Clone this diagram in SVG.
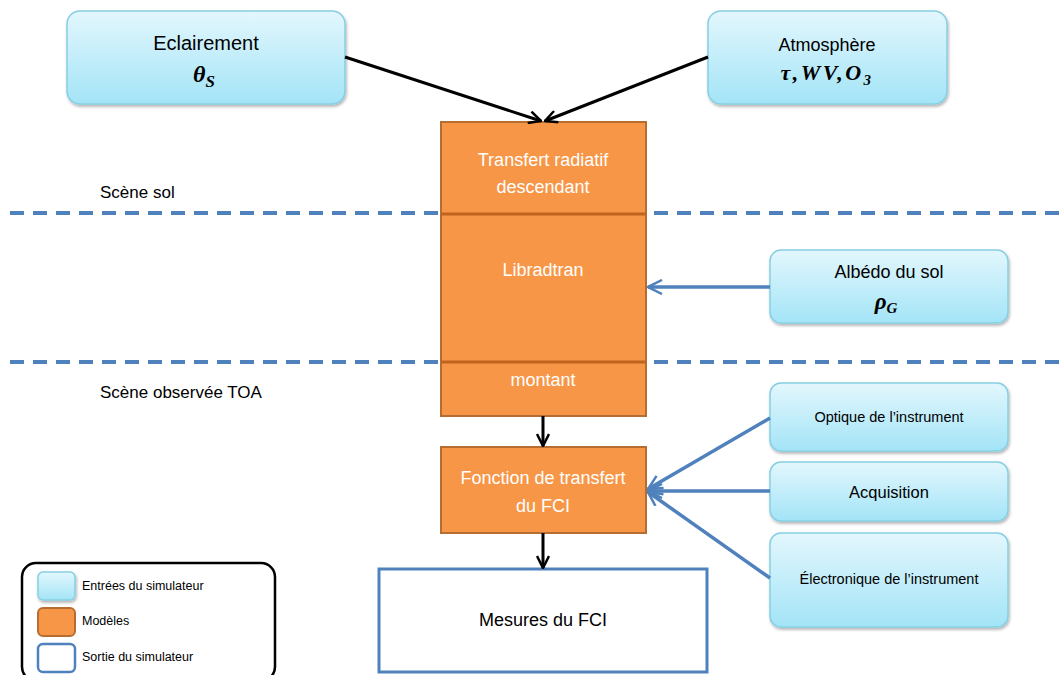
<svg xmlns="http://www.w3.org/2000/svg" width="1064" height="675" viewBox="0 0 1064 675">
<defs>
<linearGradient id="gBlue" x1="0" y1="0" x2="0" y2="1">
<stop offset="0" stop-color="#e3f7fd"/>
<stop offset="1" stop-color="#a3e4f7"/>
</linearGradient>
<filter id="sh" x="-10%" y="-10%" width="130%" height="140%">
<feDropShadow dx="1" dy="2" stdDeviation="1.5" flood-color="#000" flood-opacity="0.3"/>
</filter>
<marker id="aBlk" viewBox="0 0 14 14" refX="13" refY="7" markerWidth="14" markerHeight="14" markerUnits="userSpaceOnUse" orient="auto">
<path d="M1,1 L13,7 L1,13" fill="none" stroke="#000" stroke-width="2.5"/>
</marker>
<marker id="aBlu" viewBox="0 0 16 16" refX="15" refY="8" markerWidth="16" markerHeight="16" markerUnits="userSpaceOnUse" orient="auto">
<path d="M1,1 L15,8 L1,15" fill="none" stroke="#4f81bd" stroke-width="2.5"/>
</marker>
</defs>
<style>
.in{fill:url(#gBlue);stroke:#86cfe2;stroke-width:1.5;filter:url(#sh)}
.mod{fill:#f79646;stroke:#b66d31;stroke-width:2}
.t{font-family:"Liberation Sans",Arial,sans-serif;fill:#000;text-anchor:middle}
.w{font-family:"Liberation Sans",Arial,sans-serif;fill:#fff;text-anchor:middle;font-size:18px}
.m{font-family:"Liberation Serif","Times New Roman",serif;font-weight:bold;font-style:italic;text-anchor:middle;fill:#000}
.lbl{font-family:"Liberation Sans",Arial,sans-serif;fill:#000;font-size:17px}
.lg{font-family:"Liberation Sans",Arial,sans-serif;fill:#000;font-size:12.5px}
.dash{stroke:#4f81bd;stroke-width:4;stroke-dasharray:14 9;fill:none}
.cb{stroke:#000;stroke-width:3;fill:none}
.cu{stroke:#4f81bd;stroke-width:3.5;fill:none}
</style>

<g id="separators">
<line class="dash" x1="10" y1="213" x2="1064" y2="213"/>
<line class="dash" x1="10" y1="362" x2="1064" y2="362"/>
<text class="lbl" x="100" y="198">Scène sol</text>
<text class="lbl" x="100" y="398">Scène observée TOA</text>
</g>

<g id="eclairement">
<rect class="in" x="67" y="11" width="278" height="93" rx="13"/>
<text class="t" x="206" y="50" font-size="20">Eclairement</text>
<text class="m" x="204" y="82" font-size="24">θ<tspan font-size="17" dy="5">S</tspan></text>
</g>

<g id="atmosphere">
<rect class="in" x="708" y="11" width="239" height="93" rx="13"/>
<text class="t" x="827" y="51" font-size="18">Atmosphère</text>
<text class="m" x="827" y="80" font-size="22" letter-spacing="2.5">τ,WV,O<tspan font-size="15" dy="5">3</tspan></text>
</g>

<g id="libradtran">
<rect class="mod" x="441" y="122" width="205" height="294"/>
<line x1="441" y1="214" x2="646" y2="214" stroke="#c0631f" stroke-width="3"/>
<line x1="441" y1="362" x2="646" y2="362" stroke="#c0631f" stroke-width="3"/>
<text class="w" x="543" y="166">Transfert radiatif</text>
<text class="w" x="543" y="193">descendant</text>
<text class="w" x="543" y="276">Libradtran</text>
<text class="w" x="543" y="386">montant</text>
</g>

<g id="albedo">
<rect class="in" x="770" y="250" width="238" height="73" rx="11"/>
<text class="t" x="889" y="278" font-size="18">Albédo du sol</text>
<text class="m" x="886" y="309" font-size="23">ρ<tspan font-size="15" dy="4">G</tspan></text>
</g>

<g id="optique">
<rect class="in" x="770" y="383" width="238" height="68" rx="11"/>
<text class="t" x="889" y="422" font-size="14.5">Optique de l’instrument</text>
</g>

<g id="acquisition">
<rect class="in" x="770" y="462" width="238" height="59" rx="11"/>
<text class="t" x="889" y="498" font-size="16.5">Acquisition</text>
</g>

<g id="electronique">
<rect class="in" x="770" y="533" width="238" height="94" rx="11"/>
<text class="t" x="889" y="584" font-size="14.5">Électronique de l’instrument</text>
</g>

<g id="fonction">
<rect class="mod" x="441" y="447" width="205" height="86"/>
<text class="w" x="543" y="484">Fonction de transfert</text>
<text class="w" x="543" y="512">du FCI</text>
</g>

<g id="mesures">
<rect x="379" y="569" width="328" height="103" fill="#fff" stroke="#4f81bd" stroke-width="3"/>
<text class="t" x="543" y="626" font-size="18">Mesures du FCI</text>
</g>

<g id="legend">
<rect x="22" y="563" width="253" height="118" rx="14" fill="#fff" stroke="#000" stroke-width="2.5"/>
<rect class="in" x="38" y="572" width="37" height="28" rx="5"/>
<rect class="mod" x="38" y="608" width="37" height="28" rx="5"/>
<rect x="38" y="644" width="37" height="28" rx="5" fill="#fff" stroke="#4f81bd" stroke-width="2.5"/>
<text class="lg" x="82" y="590">Entrées du simulateur</text>
<text class="lg" x="82" y="625">Modèles</text>
<text class="lg" x="82" y="661">Sortie du simulateur</text>
</g>

<g id="connectors">
<line class="cb" x1="345" y1="57" x2="541" y2="121" marker-end="url(#aBlk)"/>
<line class="cb" x1="708" y1="57" x2="545" y2="121" marker-end="url(#aBlk)"/>
<line class="cb" x1="543" y1="416" x2="543" y2="446" marker-end="url(#aBlk)"/>
<line class="cb" x1="543" y1="533" x2="543" y2="568" marker-end="url(#aBlk)"/>
<line class="cu" x1="770" y1="287" x2="648" y2="287" marker-end="url(#aBlu)"/>
<line class="cu" x1="770" y1="418" x2="648" y2="489" marker-end="url(#aBlu)"/>
<line class="cu" x1="770" y1="491" x2="648" y2="491" marker-end="url(#aBlu)"/>
<line class="cu" x1="770" y1="578" x2="648" y2="492" marker-end="url(#aBlu)"/>
</g>
</svg>
